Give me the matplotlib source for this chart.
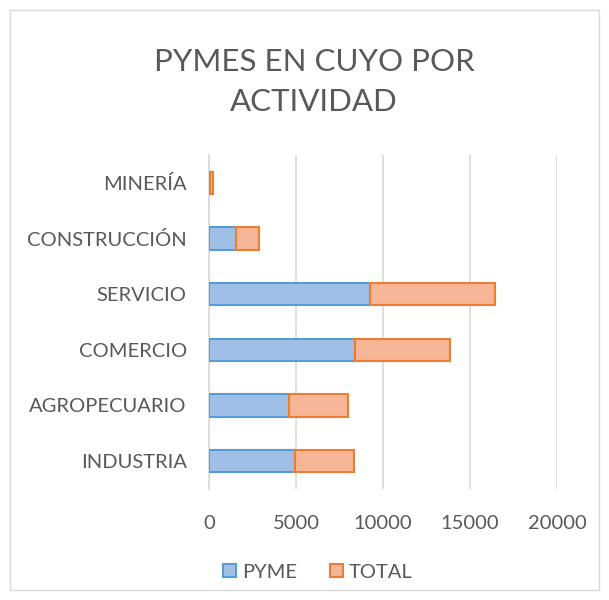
import matplotlib.pyplot as plt
from matplotlib.patches import Rectangle

categories = ["INDUSTRIA", "AGROPECUARIO", "COMERCIO", "SERVICIO", "CONSTRUCCIÓN", "MINERÍA"]
pyme = [4970, 4570, 8410, 9250, 1550, 60]
total = [3360, 3420, 5450, 7190, 1300, 170]
xticks = [0, 5000, 10000, 15000, 20000]

plt.rcParams["font.family"] = ["Lato", "DejaVu Sans"]
text_color = "#595959"

fig = plt.figure(figsize=(6.09, 6.0), dpi=100)
ax = fig.add_axes([209 / 609, 1 - 489 / 600, (557 - 209) / 609, (489 - 155) / 600])

y = range(len(categories))
ax.barh(y, pyme, height=0.4, color="#9fbfe7", edgecolor="#5b9bd5", linewidth=1.5, label="PYME", zorder=3)
ax.barh(y, total, left=pyme, height=0.4, color="#f5b596", edgecolor="#ed7d31", linewidth=1.5, label="TOTAL", zorder=3)

ax.set_xlim(0, 20000)
ax.set_ylim(-0.5, len(categories) - 0.5)
ax.set_yticks(list(y))
ax.set_yticklabels(categories, fontsize=14.5, color=text_color)
ax.set_xticks(xticks)
ax.set_xticklabels([str(t) for t in xticks], fontsize=14.5, color=text_color)
ax.tick_params(axis="y", length=0, pad=16)
ax.tick_params(axis="x", length=0, pad=19)
ax.grid(axis="x", color="#d9d9d9", linewidth=1.2, zorder=0)
for side in ["top", "right", "bottom"]:
    ax.spines[side].set_visible(False)
ax.spines["left"].set_color("#d9d9d9")
ax.spines["left"].set_linewidth(1.2)

fig.text(314 / 609, 1 - 82 / 600, "PYMES EN CUYO POR\nACTIVIDAD", ha="center", va="center",
         fontsize=22.5, color=text_color, linespacing=1.5)

fig.legend(*ax.get_legend_handles_labels(), loc="center", bbox_to_anchor=(318 / 609, 1 - 572 / 600),
           ncol=2, frameon=False, fontsize=14.5, labelcolor=text_color, handlelength=0.65,
           handleheight=0.65, handletextpad=0.3, columnspacing=1.6)

fig.add_artist(Rectangle((10 / 609, 10 / 600), 589 / 609, 580 / 600, transform=fig.transFigure,
                         fill=False, edgecolor="#d9d9d9", linewidth=1))

fig.savefig("out.png", dpi=100)
